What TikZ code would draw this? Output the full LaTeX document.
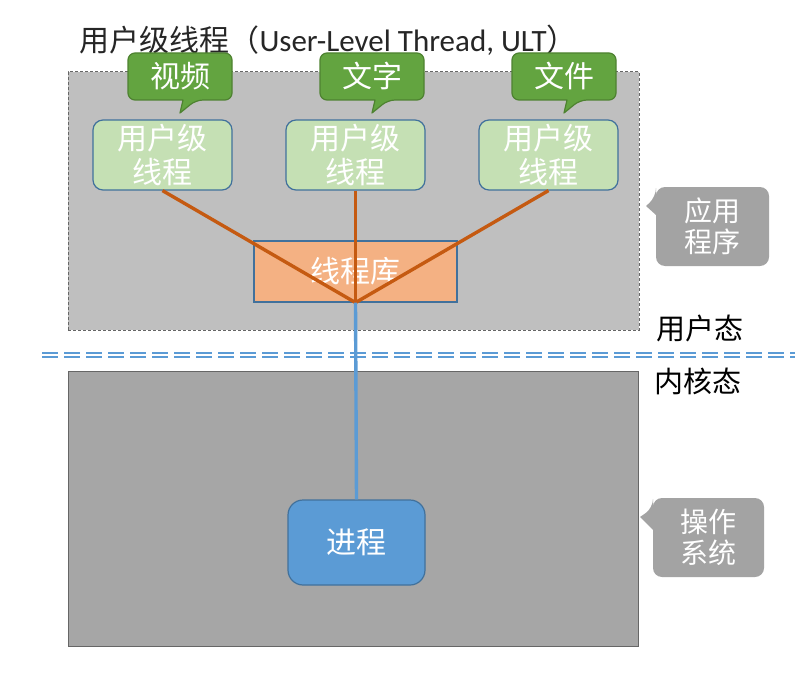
\documentclass[tikz,border=0pt]{standalone}
\usepackage{fontspec}
\setmainfont{Carlito}
\newfontfamily\cjk{Noto Sans CJK SC}
\usetikzlibrary{positioning}

\definecolor{threadfill}{HTML}{C5E0B4}
\definecolor{nodeedge}{HTML}{41719C}
\definecolor{libfill}{HTML}{F4B183}
\definecolor{procfill}{HTML}{5B9BD5}
\definecolor{tagfill}{HTML}{63A440}
\definecolor{tagedge}{HTML}{4E8231}
\definecolor{linkorange}{HTML}{C55A11}
\definecolor{linkblue}{HTML}{5B9BD5}
\definecolor{userfill}{HTML}{BFBFBF}
\definecolor{kernelfill}{HTML}{A6A6A6}
\definecolor{notefill}{HTML}{A3A3A3}

\begin{document}
\begin{tikzpicture}[x=1pt, y=-1pt,
  region/.style={draw=gray!80!black, line width=1pt, inner sep=0pt},
  thread/.style={draw=nodeedge, line width=1.2pt, fill=threadfill, rounded corners=10pt,
                 minimum width=139pt, minimum height=70pt, align=center, text=white,
                 font=\cjk\fontsize{30}{34}\selectfont},
  lib/.style={draw=nodeedge, line width=1.2pt, fill=libfill, minimum width=203pt,
              minimum height=61pt, text=white, font=\cjk\fontsize{30}{34}\selectfont},
  proc/.style={draw=nodeedge, line width=1.2pt, fill=procfill, rounded corners=15pt,
               minimum width=137pt, minimum height=85pt, text=white,
               font=\cjk\fontsize{30}{34}\selectfont},
  tagshape/.style={draw=tagedge, line width=1.2pt, fill=tagfill, line join=round},
  tagtext/.style={text=white, font=\cjk\fontsize{30}{34}\selectfont},
  noteshape/.style={fill=notefill},
  notetext/.style={align=center, text=white, font=\cjk\fontsize{28}{31}\selectfont},
  modeline/.style={draw=linkblue, double=white, line width=2pt, double distance=2pt,
                   dash pattern=on 16pt off 6pt},
  tie/.style={draw=linkorange, line width=3.4pt},
  down/.style={draw=linkblue, line width=3.4pt},
]
\useasboundingbox (0,0) rectangle (812,693);

% user space and kernel space
\node[region, dash pattern=on 3pt off 2pt, fill=userfill, minimum width=571pt, minimum height=258pt]
  (user) at (353.5,201) {};
\node[region, fill=kernelfill, minimum width=570pt, minimum height=275pt]
  (kernel) at (353,508.5) {};
\draw[modeline] (42,354.5) -- (795,354.5);

\node[anchor=west, text=black!85, font=\fontsize{31}{34}\selectfont] (title) at (76,40)
  {{\cjk\fontsize{30}{34}\selectfont 用户级线程（}User-Level Thread, ULT{\cjk ）}};

\node[thread] (t1) at (162.5,155) {用户级\\线程};
\node[thread] (t2) at (355.5,155) {用户级\\线程};
\node[thread] (t3) at (548.5,155) {用户级\\线程};

% speech bubbles over the threads
\foreach \nm/\cx/\word in {video/180/视频, text/372/文字, file/564/文件} {
  \draw[tagshape] ({\cx+3},100) [rounded corners=7pt] -- ({\cx-52},100) -- ({\cx-52},53)
    -- ({\cx+52},53) -- ({\cx+52},100) -- ({\cx+16},100) [sharp corners] -- (\cx,113) -- cycle;
  \node[tagtext] (\nm) at (\cx,76) {\word};
}

\node[lib] (lib) at (355.5,271.5) {线程库};
\node[proc] (proc) at (356.5,542.5) {进程};

\foreach \t in {t1, t2, t3} {
  \draw[tie] (\t.south) -- (lib.south);
}
\draw[down] (lib.south) -- (proc.north);

\fill[noteshape] (656,215) [rounded corners=9pt] -- (656,266) -- (769,266) -- (769,187)
  -- (656,187) -- (656,197) [sharp corners] -- (646,206) -- cycle;
\node[notetext] (app) at (712.5,226.5) {应用\\程序};
\fill[noteshape] (653,530) [rounded corners=9pt] -- (653,577) -- (764,577) -- (764,498)
  -- (653,498) -- (653,508) [sharp corners] -- (640,517) -- cycle;
\node[notetext] (os) at (708.5,537.5) {操作\\系统};

\node[font=\cjk\fontsize{29}{32}\selectfont] (umode) at (700,328) {用户态};
\node[font=\cjk\fontsize{29}{32}\selectfont] (kmode) at (698,381) {内核态};

\end{tikzpicture}
\end{document}
